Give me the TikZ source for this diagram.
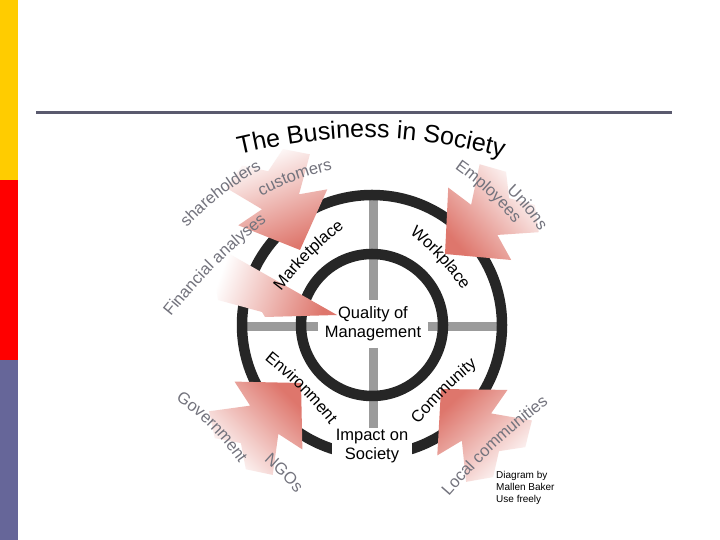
\documentclass[tikz,border=0pt]{standalone}
\usepackage{fontspec}
\setmainfont{Liberation Sans}
\usetikzlibrary{calc,decorations.text}

\definecolor{ringdark}{RGB}{38,38,38}
\definecolor{crossgray}{RGB}{155,155,155}
\definecolor{arrowred}{RGB}{222,118,108}
\definecolor{arrowmid}{RGB}{240,190,181}
\definecolor{labelgray}{RGB}{115,115,125}
\definecolor{baryellow}{RGB}{255,204,0}
\definecolor{barred}{RGB}{255,0,0}
\definecolor{barpurple}{RGB}{102,102,153}
\definecolor{rulecolor}{RGB}{90,90,110}

\newcommand{\lblfont}{\fontsize{16.5}{19}\selectfont}
\newcommand{\titlefont}{\fontsize{25}{30}\selectfont}

\tikzset{
  ringpen/.style={draw=ringdark, line width=10.5pt},
  crossbar/.style={draw=crossgray, line width=9pt},
  arrowshade/.style={top color=arrowred, middle color=arrowmid, bottom color=white},
  titletext/.style={decorate, decoration={text along path, text align=center,
    text={|\titlefont|#1}}},
  outertext/.style={decorate, decoration={text along path, text align=center,
    text={|\lblfont\color{labelgray}|#1}}},
  ringtext/.style={decorate, decoration={text along path, text align=center,
    text={|\lblfont|#1}}},
}

% merged arrow head: #1 tip, #2 direction it points to
\newcommand{\fadearrow}[2]{%
  \pgfmathsetmacro{\shadeang}{#2-90}%
  \shade[arrowshade, shading angle=\shadeang]
    (#1) -- +(#2+133.8:66.5) -- +(#2+159:55.7) -- +(#2+152.1:96.2)
    -- +(#2+167.6:102.4) -- +(#2+180:85) -- +(#2-167.6:102.4)
    -- +(#2-152.1:96.2) -- +(#2-159:55.7) -- +(#2-133.8:66.5) -- cycle;}

\begin{document}
\begin{tikzpicture}[x=1pt,y=1pt]
  \useasboundingbox (0,0) rectangle (720,540);
  \fill[white] (0,0) rectangle (720,540);

  % slide frame
  \fill[baryellow] (0,360) rectangle (18,540);
  \fill[barred] (0,180) rectangle (18,360);
  \fill[barpurple] (0,0) rectangle (18,180);
  \draw[rulecolor, line width=3pt] (36,427) -- (672,427);

  % centre and cross
  \coordinate (c) at (372,215);
  \coordinate (ringN) at (373,345);
  \coordinate (ringS) at (373,85);
  \coordinate (ringW) at (242,213);
  \coordinate (ringE) at (502,213);
  \node[inner sep=6.5pt, align=center, font=\lblfont] (qm) at (373,216) {Quality of\\Management};
  \draw[crossbar] (qm.north) -- (ringN);
  \draw[crossbar] (qm.south) -- (ringS);
  \draw[crossbar] (qm.west |- ringW) -- (ringW);
  \draw[crossbar] (qm.east |- ringE) -- (ringE);

  % the two rings
  \draw[ringpen] (c) circle[radius=130];
  \draw[ringpen] (c) circle[radius=71];
  \node[fill=white, inner xsep=4pt, inner ysep=1pt, align=center, font=\lblfont] (impact) at (372,94) {Impact on\\Society};

  % stakeholder arrows
  \fadearrow{300,290}{-68}
  \fadearrow{445,286}{221}
  \fadearrow{301,157}{45}
  \fadearrow{441,151}{133}
  \shade[arrowshade, shading angle=-110]
    (337,225) -- (226,288) -- (212,278) -- (218,240) -- (262,228) -- (265,223) -- cycle;

  % ring labels
  \path[ringtext={Marketplace}] ($(313.2,279.8)+(225:49)$) to[bend left=8] ($(313.2,279.8)+(45:49)$);
  \path[ringtext={Workplace}] ($(435.6,277.9)+(133:43)$) to[bend left=8] ($(435.6,277.9)+(-47:43)$);
  \path[ringtext={Environment}] ($(296.8,147.8)+(135:50)$) to[bend left=6] ($(296.8,147.8)+(-45:50)$);
  \path[ringtext={Community}] ($(448.2,144.8)+(225:46)$) to[bend left=6] ($(448.2,144.8)+(45:46)$);

  % stakeholder labels
  \path[outertext={shareholders}] ($(224.7,341.3)+(218:52)$) to[bend left=8] ($(224.7,341.3)+(38:52)$);
  \path[outertext={customers}] ($(297.1,356.4)+(200:42)$) to[bend left=8] ($(297.1,356.4)+(20:42)$);
  \path[outertext={Financial analyses}] ($(219.2,270.8)+(225:72)$) to[bend left=6] ($(219.2,270.8)+(45:72)$);
  \path[outertext={Employees}] ($(483.9,343.6)+(137:45)$) to[bend left=8] ($(483.9,343.6)+(-43:45)$);
  \path[outertext={Unions}] ($(522.4,328.1)+(130:30)$) to[bend left=8] ($(522.4,328.1)+(-50:30)$);
  \path[outertext={Government}] ($(206.8,107.8)+(135:50)$) to[bend left=10] ($(206.8,107.8)+(-45:50)$);
  \path[outertext={NGOs}] ($(279.8,62.8)+(135:27)$) to[bend left=4] ($(279.8,62.8)+(-45:27)$);
  \path[outertext={Local communities}] ($(499.1,89.6)+(223:72)$) to[bend left=6] ($(499.1,89.6)+(43:72)$);

  % title and credit
  \path[titletext={The Business in Society}] (232,384) to[bend left=14] (510,381);
  \node[anchor=north west, inner sep=0pt, align=left, font=\fontsize{10}{11.7}\selectfont] (credit) at (496,68.5) {Diagram by\\Mallen Baker\\Use freely};
\end{tikzpicture}
\end{document}
